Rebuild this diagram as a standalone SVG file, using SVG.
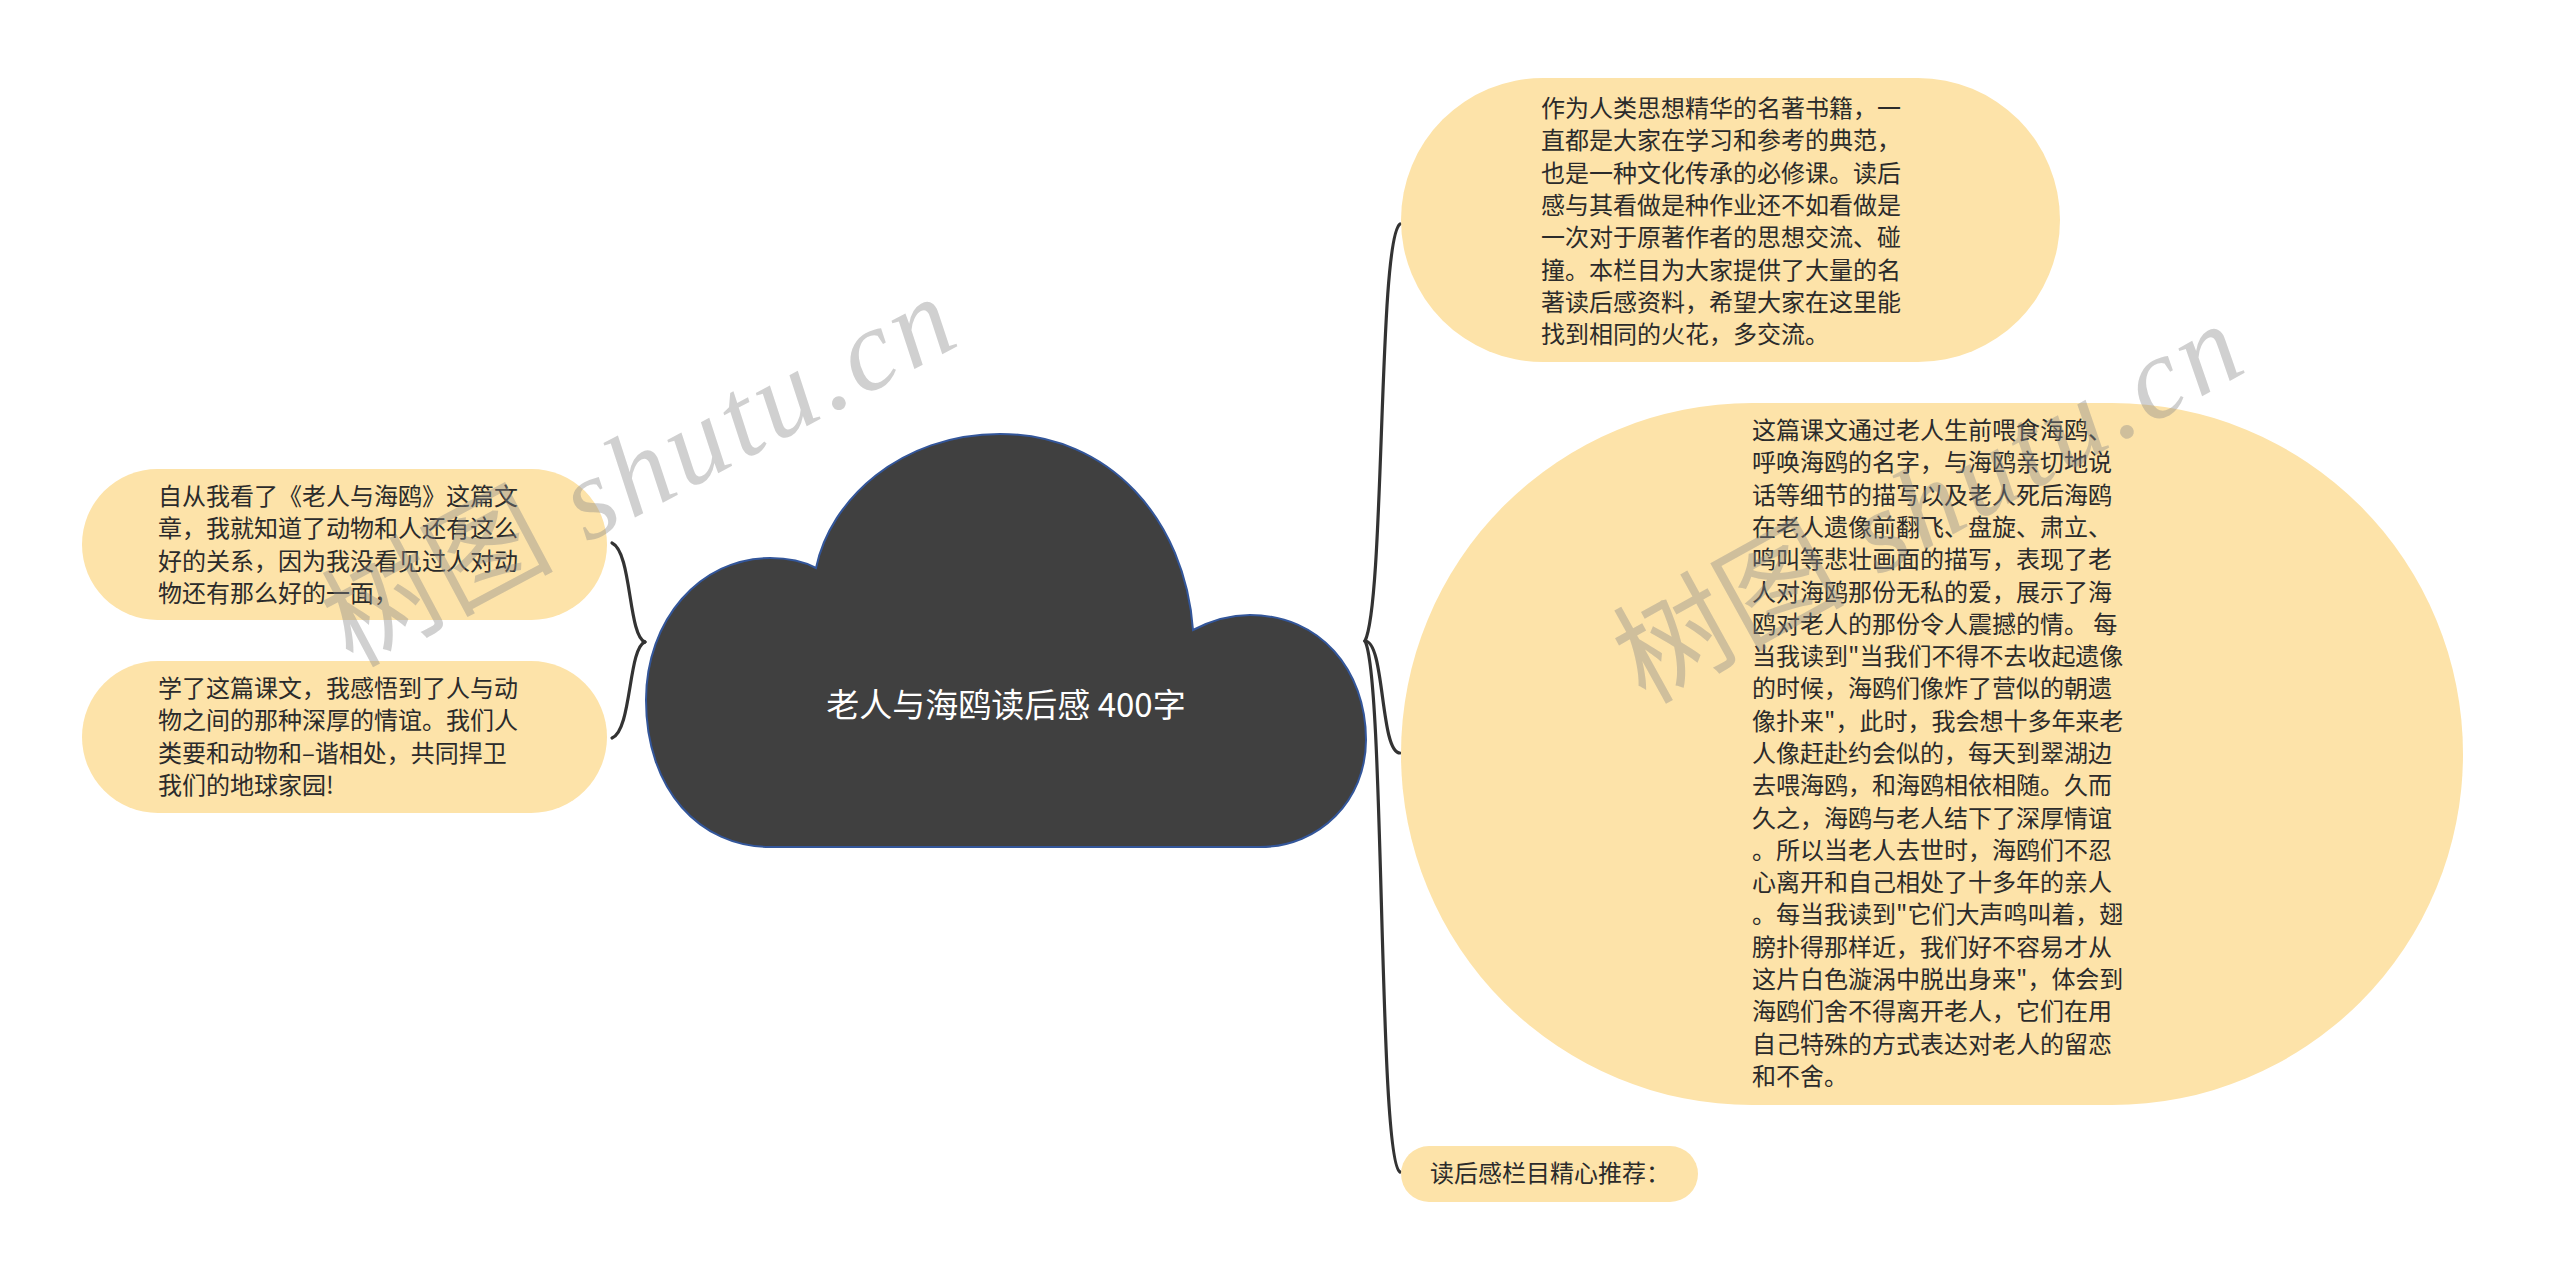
<svg xmlns="http://www.w3.org/2000/svg" width="2560" height="1283" viewBox="0 0 2560 1283">
<style>
.node{fill:#FDE3A9;}
.t{font-family:"Noto Sans CJK SC","Noto Sans",sans-serif;font-size:24px;fill:#2b2b2b;}
.conn{fill:none;stroke:#333333;stroke-width:3.2;stroke-linecap:round;}
.wm{font-size:116px;fill:#8a8a8a;fill-opacity:0.4;}
.wmc{font-family:"Noto Sans CJK SC",sans-serif;}
.wml{font-family:"Liberation Serif",serif;font-style:italic;letter-spacing:5px;}
</style>
<rect x="0" y="0" width="2560" height="1283" fill="#ffffff"/>

<g id="connectors">
<path class="conn" d="M645,642 C628,636 632,552 612,543"/>
<path class="conn" d="M645,642 C628,648 632,730 612,738"/>
<path class="conn" d="M1365,641 C1385,600 1378,240 1400,224"/>
<path class="conn" d="M1365,641 C1385,641 1380,753 1400,753"/>
<path class="conn" d="M1365,641 C1385,680 1378,1160 1400,1172"/>
</g>

<g id="root">
<path d="M770,847 C700,847 646,790 646,700 C646,620 700,558 770,558 C790,558 805,562 816,568 C830,500 900,434 1000,434 C1110,434 1185,520 1193,630 C1212,620 1230,615 1250,615 C1320,615 1366,670 1366,740 C1366,800 1320,847 1260,847 Z" fill="#404040" stroke="#33569a" stroke-width="2"/>
<text x="1006" y="717" text-anchor="middle" font-family="Noto Sans CJK SC, Noto Sans, sans-serif" font-size="33" fill="#ffffff">老人与海鸥读后感 400字</text>
</g>

<g id="node-a">
<rect class="node" x="1401" y="78" width="659" height="284" rx="142" ry="142"/>
<text class="t" x="1541" y="117">
<tspan x="1541">作为人类思想精华的名著书籍，一</tspan>
<tspan x="1541" dy="32.3">直都是大家在学习和参考的典范，</tspan>
<tspan x="1541" dy="32.3">也是一种文化传承的必修课。读后</tspan>
<tspan x="1541" dy="32.3">感与其看做是种作业还不如看做是</tspan>
<tspan x="1541" dy="32.3">一次对于原著作者的思想交流、碰</tspan>
<tspan x="1541" dy="32.3">撞。本栏目为大家提供了大量的名</tspan>
<tspan x="1541" dy="32.3">著读后感资料，希望大家在这里能</tspan>
<tspan x="1541" dy="32.3">找到相同的火花，多交流。</tspan>
</text>
</g>

<g id="node-b">
<rect class="node" x="1401" y="403" width="1062" height="702" rx="351" ry="351"/>
<text class="t" x="1752" y="439">
<tspan x="1752">这篇课文通过老人生前喂食海鸥、</tspan>
<tspan x="1752" dy="32.3">呼唤海鸥的名字，与海鸥亲切地说</tspan>
<tspan x="1752" dy="32.3">话等细节的描写以及老人死后海鸥</tspan>
<tspan x="1752" dy="32.3">在老人遗像前翻飞、盘旋、肃立、</tspan>
<tspan x="1752" dy="32.3">鸣叫等悲壮画面的描写，表现了老</tspan>
<tspan x="1752" dy="32.3">人对海鸥那份无私的爱，展示了海</tspan>
<tspan x="1752" dy="32.3">鸥对老人的那份令人震撼的情。 每</tspan>
<tspan x="1752" dy="32.3">当我读到"当我们不得不去收起遗像</tspan>
<tspan x="1752" dy="32.3">的时候，海鸥们像炸了营似的朝遗</tspan>
<tspan x="1752" dy="32.3">像扑来"，此时，我会想十多年来老</tspan>
<tspan x="1752" dy="32.3">人像赶赴约会似的，每天到翠湖边</tspan>
<tspan x="1752" dy="32.3">去喂海鸥，和海鸥相依相随。久而</tspan>
<tspan x="1752" dy="32.3">久之，海鸥与老人结下了深厚情谊</tspan>
<tspan x="1752" dy="32.3">。所以当老人去世时，海鸥们不忍</tspan>
<tspan x="1752" dy="32.3">心离开和自己相处了十多年的亲人</tspan>
<tspan x="1752" dy="32.3">。每当我读到"它们大声鸣叫着，翅</tspan>
<tspan x="1752" dy="32.3">膀扑得那样近，我们好不容易才从</tspan>
<tspan x="1752" dy="32.3">这片白色漩涡中脱出身来"，体会到</tspan>
<tspan x="1752" dy="32.3">海鸥们舍不得离开老人，它们在用</tspan>
<tspan x="1752" dy="32.3">自己特殊的方式表达对老人的留恋</tspan>
<tspan x="1752" dy="32.3">和不舍。</tspan>
</text>
</g>

<g id="node-c">
<rect class="node" x="1401" y="1146" width="297" height="56" rx="28" ry="28"/>
<text class="t" x="1430" y="1182">读后感栏目精心推荐：</text>
</g>

<g id="node-d">
<rect class="node" x="82" y="469" width="525" height="151" rx="75.5" ry="75.5"/>
<text class="t" x="158" y="505">
<tspan x="158">自从我看了《老人与海鸥》这篇文</tspan>
<tspan x="158" dy="32.3">章，我就知道了动物和人还有这么</tspan>
<tspan x="158" dy="32.3">好的关系，因为我没看见过人对动</tspan>
<tspan x="158" dy="32.3">物还有那么好的一面，</tspan>
</text>
</g>

<g id="node-e">
<rect class="node" x="82" y="661" width="525" height="152" rx="76" ry="76"/>
<text class="t" x="158" y="697">
<tspan x="158">学了这篇课文，我感悟到了人与动</tspan>
<tspan x="158" dy="32.3">物之间的那种深厚的情谊。我们人</tspan>
<tspan x="158" dy="32.3">类要和动物和–谐相处，共同捍卫</tspan>
<tspan x="158" dy="32.3">我们的地球家园!</tspan>
</text>
</g>

<g id="watermarks">
<text class="wm" transform="translate(352,668) rotate(-28)"><tspan class="wmc">树图</tspan><tspan class="wml"> shutu.cn</tspan></text>
<text class="wm" transform="translate(1645,705) rotate(-29)"><tspan class="wmc">树图</tspan><tspan class="wml"> shutu.cn</tspan></text>
</g>
</svg>
